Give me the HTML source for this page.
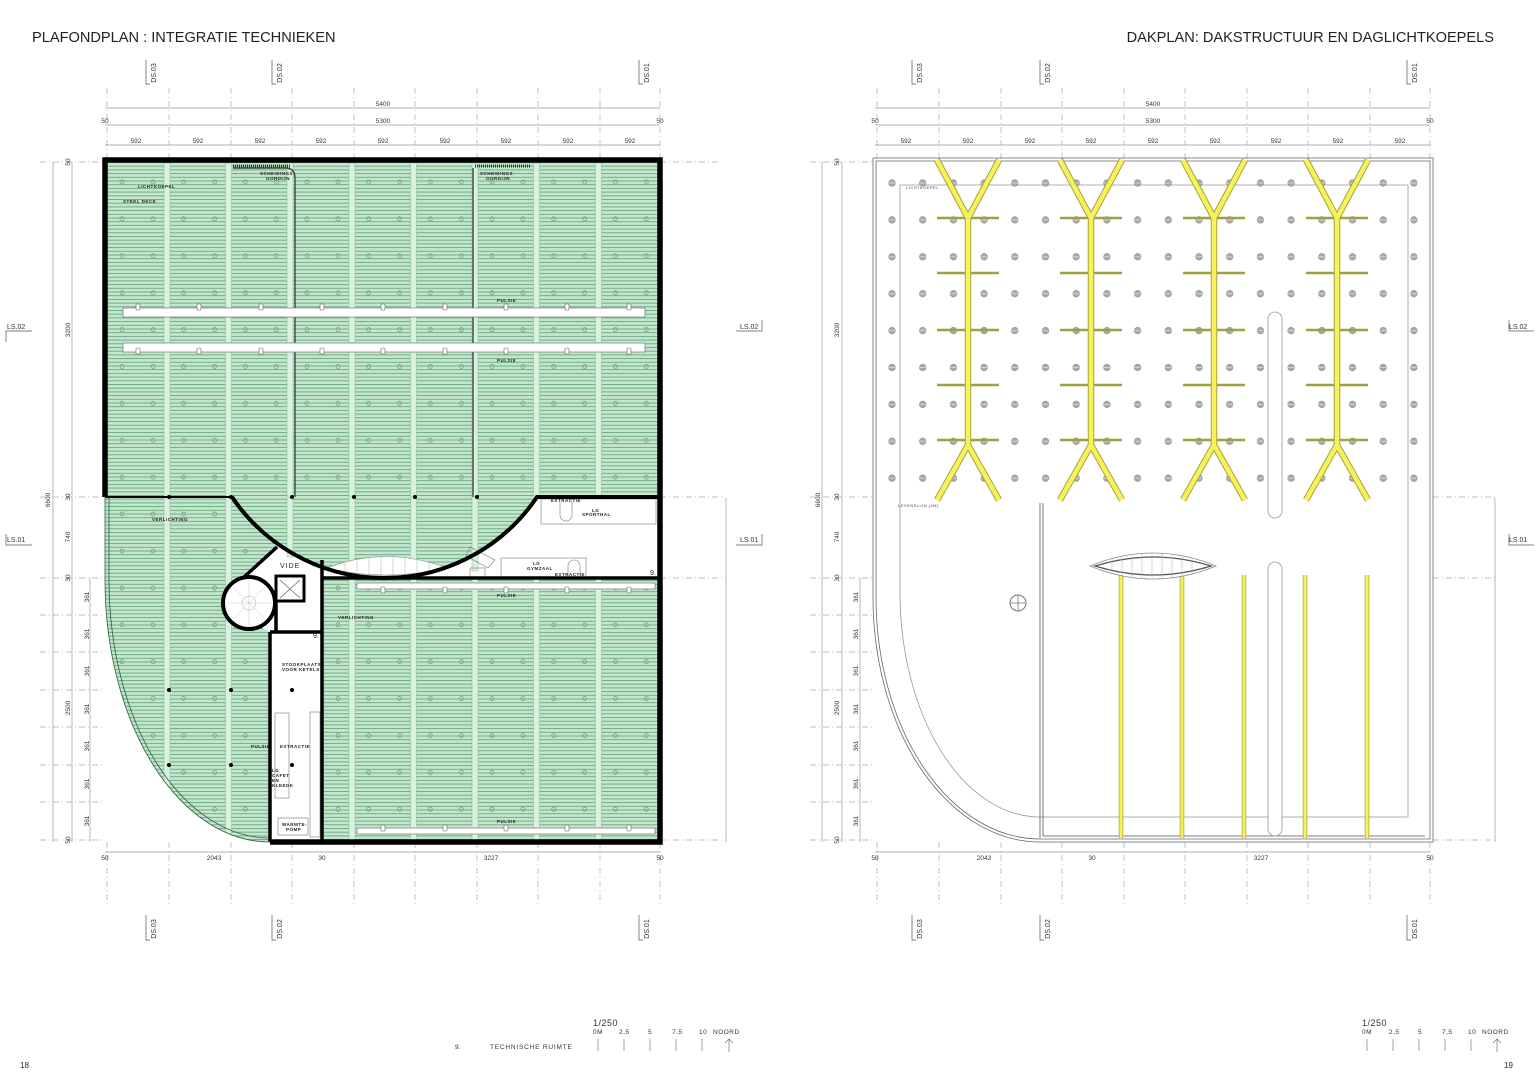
<!DOCTYPE html>
<html><head><meta charset="utf-8"><style>
html,body{margin:0;padding:0;background:#fff;}
svg{display:block;font-family:"Liberation Sans",sans-serif;}
</style></head><body>
<svg width="1536" height="1085" viewBox="0 0 1536 1085" xmlns="http://www.w3.org/2000/svg">
<defs>
<pattern id="stripe" patternUnits="userSpaceOnUse" width="10" height="3.7" x="0" y="162">
<rect width="10" height="3.7" fill="#c3e7cd"/><line x1="0" y1="0.5" x2="10" y2="0.5" stroke="#6aa67d" stroke-width="0.9"/>
</pattern>
<pattern id="lights" patternUnits="userSpaceOnUse" width="61.67" height="36.9" x="105" y="163">
<circle cx="17" cy="19" r="2" fill="none" stroke="#7a9a85" stroke-width="0.8"/>
<circle cx="48" cy="19" r="2" fill="none" stroke="#7a9a85" stroke-width="0.8"/>
</pattern>
<pattern id="dots" patternUnits="userSpaceOnUse" width="30.7" height="36.9" x="876.65" y="164.55">
<circle cx="15.35" cy="18.45" r="3.3" fill="#aaa" stroke="#888" stroke-width="0.6"/>
<line x1="12.3" y1="18.45" x2="18.4" y2="18.45" stroke="#eee" stroke-width="0.6"/>
</pattern>
<clipPath id="gclip"><path d="M105 160H660V842H270A165 262 0 0 1 105 580Z"/></clipPath>
</defs>

<text x="32" y="42" font-size="14.6" fill="#222">PLAFONDPLAN : INTEGRATIE TECHNIEKEN</text>
<text x="1494" y="42" font-size="14.6" fill="#222" text-anchor="end">DAKPLAN: DAKSTRUCTUUR EN DAGLICHTKOEPELS</text>

<g stroke="#aaa" stroke-width="0.7" stroke-dasharray="6,3,1,3" fill="none">
<path d="M107 88V160M169 88V160M231 88V160M292 88V160M354 88V160M415 88V160M477 88V160M538 88V160M600 88V160M660 88V160"/>
<path d="M107 842V905M169 842V905M231 842V905M292 842V905M354 842V905M415 842V905M477 842V905M538 842V905M600 842V905M660 842V905"/>
<path d="M877 88V160M939 88V160M1001 88V160M1062 88V160M1124 88V160M1185 88V160M1247 88V160M1308 88V160M1370 88V160M1430 88V160"/>
<path d="M877 842V905M939 842V905M1001 842V905M1062 842V905M1124 842V905M1185 842V905M1247 842V905M1308 842V905M1370 842V905M1430 842V905"/>
<path d="M40 162H105M40 497H105M40 578H105M40 615H105M40 652H105M40 690H105M40 727H105M40 765H105M40 802H105M40 840H105"/>
<path d="M660 162H720M660 497H725M660 578H725M660 840H725"/>
<path d="M810 162H873M810 497H873M810 578H873M810 615H873M810 652H873M810 690H873M810 727H873M810 765H873M810 802H873M810 840H873"/>
<path d="M1433 497H1495M1433 578H1495M1433 840H1495"/>
</g>

<g stroke="#999" stroke-width="0.7" fill="none">
<path d="M105 108H660M105 125H660M105 145H660"/>
<path d="M53 162V842M72 162V842M90 578V842"/>
<path d="M105 852H660"/>
<path d="M875 108H1430M875 125H1430M875 145H1430"/>
<path d="M822 162V842M842 162V842M860 578V842"/>
<path d="M875 852H1430"/>
<path d="M726 498V842M1495 498V842"/>
</g>
<g font-size="6.5" fill="#333" text-anchor="middle">
<text x="383" y="106">5400</text><text x="383" y="123">5300</text>
<text x="105" y="123">50</text><text x="660" y="123">50</text>
<text x="136" y="143">592</text><text x="198" y="143">592</text><text x="260" y="143">592</text><text x="321" y="143">592</text><text x="383" y="143">592</text><text x="445" y="143">592</text><text x="506" y="143">592</text><text x="568" y="143">592</text><text x="630" y="143">592</text>
<text x="105" y="860">50</text><text x="214" y="860">2043</text><text x="322" y="860">30</text><text x="491" y="860">3227</text><text x="660" y="860">50</text>
<text x="1153" y="106">5400</text><text x="1153" y="123">5300</text>
<text x="875" y="123">50</text><text x="1430" y="123">50</text>
<text x="906" y="143">592</text><text x="968" y="143">592</text><text x="1030" y="143">592</text><text x="1091" y="143">592</text><text x="1153" y="143">592</text><text x="1215" y="143">592</text><text x="1276" y="143">592</text><text x="1338" y="143">592</text><text x="1400" y="143">592</text>
<text x="875" y="860">50</text><text x="984" y="860">2043</text><text x="1092" y="860">30</text><text x="1261" y="860">3227</text><text x="1430" y="860">50</text>
</g>
<g font-size="6.5" fill="#333" text-anchor="middle">
<text transform="translate(50,500) rotate(-90)">6600</text>
<text transform="translate(70,330) rotate(-90)">3200</text>
<text transform="translate(70,162) rotate(-90)">50</text>
<text transform="translate(70,497) rotate(-90)">30</text>
<text transform="translate(70,537) rotate(-90)">740</text>
<text transform="translate(70,578) rotate(-90)">30</text>
<text transform="translate(70,708) rotate(-90)">2500</text>
<text transform="translate(70,840) rotate(-90)">50</text>
<text transform="translate(89,597) rotate(-90)">361</text><text transform="translate(89,634) rotate(-90)">361</text><text transform="translate(89,671) rotate(-90)">361</text><text transform="translate(89,709) rotate(-90)">361</text><text transform="translate(89,746) rotate(-90)">361</text><text transform="translate(89,784) rotate(-90)">361</text><text transform="translate(89,821) rotate(-90)">361</text>
<text transform="translate(820,500) rotate(-90)">6600</text>
<text transform="translate(839,330) rotate(-90)">3200</text>
<text transform="translate(839,162) rotate(-90)">50</text>
<text transform="translate(839,497) rotate(-90)">30</text>
<text transform="translate(839,537) rotate(-90)">740</text>
<text transform="translate(839,578) rotate(-90)">30</text>
<text transform="translate(839,708) rotate(-90)">2500</text>
<text transform="translate(839,840) rotate(-90)">50</text>
<text transform="translate(858,597) rotate(-90)">361</text><text transform="translate(858,634) rotate(-90)">361</text><text transform="translate(858,671) rotate(-90)">361</text><text transform="translate(858,709) rotate(-90)">361</text><text transform="translate(858,746) rotate(-90)">361</text><text transform="translate(858,784) rotate(-90)">361</text><text transform="translate(858,821) rotate(-90)">361</text>
</g>
<g font-size="7" fill="#333" text-anchor="middle">
<text transform="translate(156,73) rotate(-90)">DS.03</text><text transform="translate(282,73) rotate(-90)">DS.02</text><text transform="translate(649,73) rotate(-90)">DS.01</text>
<text transform="translate(156,929) rotate(-90)">DS.03</text><text transform="translate(282,929) rotate(-90)">DS.02</text><text transform="translate(649,929) rotate(-90)">DS.01</text>
<text transform="translate(922,73) rotate(-90)">DS.03</text><text transform="translate(1050,73) rotate(-90)">DS.02</text><text transform="translate(1417,73) rotate(-90)">DS.01</text>
<text transform="translate(922,929) rotate(-90)">DS.03</text><text transform="translate(1050,929) rotate(-90)">DS.02</text><text transform="translate(1417,929) rotate(-90)">DS.01</text>
</g>
<g stroke="#555" stroke-width="0.7" fill="none">
<path d="M146 60V84H150M272 60V84H276M639 60V84H643M146 915V940H150M272 915V940H276M639 915V940H643"/>
<path d="M912 60V84H916M1040 60V84H1044M1407 60V84H1411M912 915V940H916M1040 915V940H1044M1407 915V940H1411"/>
<path d="M6 342V331H32M6 534V545H32M762 320V331H736M762 534V545H736M1509 320V331H1534M1509 534V545H1534"/>
</g>
<g font-size="7" fill="#333">
<text x="7" y="329">LS.02</text><text x="7" y="542">LS.01</text>
<text x="740" y="329">LS.02</text><text x="740" y="542">LS.01</text>
<text x="1509" y="329">LS.02</text><text x="1509" y="542">LS.01</text>
</g>

<!-- LEFT PLAN -->
<path d="M105 160H660V842H270A165 262 0 0 1 105 580Z" fill="url(#stripe)"/>
<g clip-path="url(#gclip)">
<g fill="#d9f1df" stroke="#86b894" stroke-width="0.5">
<rect x="164" y="163" width="6" height="677"/><rect x="225.5" y="163" width="6" height="677"/><rect x="287" y="163" width="6" height="677"/><rect x="349" y="163" width="6" height="677"/><rect x="410.5" y="163" width="6" height="677"/><rect x="472" y="163" width="6" height="677"/><rect x="533.5" y="163" width="6" height="677"/><rect x="595.5" y="163" width="6" height="677"/>
</g>
<rect x="105" y="160" width="555" height="682" fill="url(#lights)"/>
</g>
<g stroke="#444" stroke-width="1.4" fill="none">
<path d="M233 168H285Q295 168 295 178V497"/>
<path d="M473 168V497"/>
</g>
<path d="M233 166H290" stroke="#333" stroke-width="3" stroke-dasharray="1,1"/>
<path d="M475 166H530" stroke="#333" stroke-width="3" stroke-dasharray="1,1"/>
<g fill="#fff" stroke="#777" stroke-width="0.7">
<rect x="123" y="308" width="522" height="9"/><rect x="123" y="343" width="522" height="9"/>
<rect x="357" y="583" width="298" height="6"/><rect x="357" y="828" width="298" height="6"/>
</g>
<g fill="#fff" stroke="#666" stroke-width="0.6">
<rect x="136" y="304" width="4" height="6" rx="1"/><rect x="197" y="304" width="4" height="6" rx="1"/><rect x="259" y="304" width="4" height="6" rx="1"/><rect x="320" y="304" width="4" height="6" rx="1"/><rect x="381" y="304" width="4" height="6" rx="1"/><rect x="443" y="304" width="4" height="6" rx="1"/><rect x="504" y="304" width="4" height="6" rx="1"/><rect x="565" y="304" width="4" height="6" rx="1"/><rect x="627" y="304" width="4" height="6" rx="1"/>
<rect x="136" y="348" width="4" height="6" rx="1"/><rect x="197" y="348" width="4" height="6" rx="1"/><rect x="259" y="348" width="4" height="6" rx="1"/><rect x="320" y="348" width="4" height="6" rx="1"/><rect x="381" y="348" width="4" height="6" rx="1"/><rect x="443" y="348" width="4" height="6" rx="1"/><rect x="504" y="348" width="4" height="6" rx="1"/><rect x="565" y="348" width="4" height="6" rx="1"/><rect x="627" y="348" width="4" height="6" rx="1"/>
<rect x="381" y="587" width="4" height="6" rx="1"/><rect x="443" y="587" width="4" height="6" rx="1"/><rect x="504" y="587" width="4" height="6" rx="1"/><rect x="565" y="587" width="4" height="6" rx="1"/><rect x="627" y="587" width="4" height="6" rx="1"/>
<rect x="381" y="825" width="4" height="6" rx="1"/><rect x="443" y="825" width="4" height="6" rx="1"/><rect x="504" y="825" width="4" height="6" rx="1"/><rect x="565" y="825" width="4" height="6" rx="1"/><rect x="627" y="825" width="4" height="6" rx="1"/>
</g>
<rect x="322" y="497" width="338" height="81" fill="#fff"/>
<path d="M277 547L243 578L232 612L270 632H322V560Z" fill="#fff"/>
<path d="M232 497A184 184 0 0 0 537 497Z" fill="url(#stripe)"/>
<g fill="#d9f1df" stroke="#86b894" stroke-width="0.5"><rect x="287" y="497" width="6" height="60"/><rect x="349" y="497" width="6" height="72"/><rect x="410.5" y="497" width="6" height="80"/><rect x="472" y="497" width="6" height="74"/></g>
<path d="M327 568Q385 545 447 568Q385 582 327 568Z" fill="#fff" stroke="#888" stroke-width="0.6"/>
<g stroke="#aaa" stroke-width="0.5"><path d="M345 562V575M357 559V577M369 557V578M381 556V578M393 556V578M405 557V578M417 558V577M429 561V575"/></g>
<rect x="270" y="632" width="52" height="210" fill="#fff"/>
<g fill="none" stroke="#777" stroke-width="0.6">
<rect x="541" y="499" width="115" height="25"/><rect x="501" y="558" width="85" height="20"/>
<path d="M560 502V515A6 6 0 0 0 572 515V502"/><path d="M568 577V566A6 6 0 0 1 580 566V577"/>
<rect x="275" y="713" width="14" height="85"/><rect x="310" y="712" width="10" height="125"/>
<rect x="278" y="818" width="30" height="17"/>
<path d="M470 547L495 560L488 568L466 556Z"/><rect x="470" y="568" width="15" height="9"/>
</g>
<circle cx="249" cy="603" r="26" fill="#fff" stroke="#000" stroke-width="4"/>
<g stroke="#bbb" stroke-width="0.4"><path d="M249 580V626M226 603H272M233 587L265 619M265 587L233 619"/></g>
<circle cx="249" cy="603" r="7" fill="none" stroke="#aaa" stroke-width="0.5"/>
<rect x="276" y="576" width="28" height="25" fill="#fff" stroke="#000" stroke-width="3"/>
<path d="M280 580L300 598M300 580L280 598" stroke="#555" stroke-width="0.6"/>
<g fill="none" stroke="#000">
<path d="M105 497V160H660V842H270" stroke-width="5.5"/>
<path d="M105 497H232" stroke-width="2"/>
<path d="M232 497A184 184 0 0 0 537 497H660" stroke-width="4"/>
<path d="M322 578H660M322 560V842M270 632V842M270 632H322M277 547L243 578M276 601V632" stroke-width="3.5"/>
</g>
<path d="M270 842A165 262 0 0 1 105 580V497" fill="none" stroke="#2e5a3e" stroke-width="0.8"/>
<path d="M268 838A161 258 0 0 1 109 580V497" fill="none" stroke="#2e5a3e" stroke-width="0.8"/>
<g fill="#000"><circle cx="169" cy="497" r="2"/><circle cx="231" cy="497" r="2"/><circle cx="292" cy="497" r="2"/><circle cx="354" cy="497" r="2"/><circle cx="415" cy="497" r="2"/><circle cx="477" cy="497" r="2"/><circle cx="169" cy="690" r="2"/><circle cx="231" cy="690" r="2"/><circle cx="169" cy="765" r="2"/><circle cx="231" cy="765" r="2"/><circle cx="292" cy="690" r="2"/><circle cx="292" cy="765" r="2"/></g>
<g font-size="4.5" fill="#222" font-weight="bold" letter-spacing="0.5">
<text x="138" y="188">LICHTKOEPEL</text><text x="123" y="203">STEEL DECK</text>
<text x="260" y="175">SCHEIDINGS</text><text x="266" y="180">GORDIJN</text>
<text x="480" y="175">SCHEIDINGS</text><text x="486" y="180">GORDIJN</text>
<text x="497" y="302">PULSIE</text><text x="497" y="362">PULSIE</text>
<text x="152" y="521">VERLICHTING</text><text x="338" y="619">VERLICHTING</text>
<text x="497" y="597">PULSIE</text><text x="497" y="823">PULSIE</text>
<text x="551" y="502">EXTRACTIE</text><text x="592" y="512">LG</text><text x="582" y="516">SPORTHAL</text>
<text x="533" y="565">LG</text><text x="527" y="570">GYMZAAL</text><text x="555" y="576">EXTRACTIE</text>
<text x="282" y="666">STOOKPLAATS</text><text x="282" y="671">VOOR KETELS</text>
<text x="251" y="748">PULSIE</text><text x="280" y="748">EXTRACTIE</text>
<text x="272" y="772">LG</text><text x="272" y="777">CAFET</text><text x="272" y="782">EN</text><text x="272" y="787">KLEEDK</text>
<text x="282" y="826">WARMTE-</text><text x="286" y="831">POMP</text>
</g>
<text x="280" y="568" font-size="7" fill="#222" letter-spacing="1">VIDE</text>
<text x="650" y="575" font-size="7" fill="#222">9.</text>
<text x="313" y="638" font-size="7" fill="#222">9.</text>

<!-- RIGHT PLAN -->
<g fill="none" stroke="#666" stroke-width="0.8">
<path d="M873 158H1433V842H1040A167 245 0 0 1 873 597Z"/>
<path d="M876 161H1430V839H1040A164 242 0 0 1 876 597Z"/>
<path d="M900 185H1408V817H1040A140 225 0 0 1 900 592Z" stroke="#999"/>
<path d="M1040 503V838M1043 503V836H1425" stroke="#555"/>
</g>
<rect x="876" y="165" width="550" height="330" fill="url(#dots)"/>
<text x="906" y="189" font-size="4" fill="#444" letter-spacing="0.5">LICHTKOEPEL</text>
<text x="898" y="507" font-size="4" fill="#444" letter-spacing="0.5">LEVENSLIJN (2M)</text>
<g stroke="#a0a040" stroke-width="2.5">
<path d="M937 218H999M937 273H999M937 330H999M937 385H999M937 440H999"/>
<path d="M1060 218H1122M1060 273H1122M1060 330H1122M1060 385H1122M1060 440H1122"/>
<path d="M1183 218H1245M1183 273H1245M1183 330H1245M1183 385H1245M1183 440H1245"/>
<path d="M1306 218H1368M1306 273H1368M1306 330H1368M1306 385H1368M1306 440H1368"/>
</g>
<g fill="none">
<g stroke="#a9a33a" stroke-width="6.5">
<path d="M937 160L968 218L999 160M968 218V445L937 500M968 445L999 500"/>
<path d="M1060 160L1091 218L1122 160M1091 218V445L1060 500M1091 445L1122 500"/>
<path d="M1183 160L1214 218L1245 160M1214 218V445L1183 500M1214 445L1245 500"/>
<path d="M1306 160L1337 218L1368 160M1337 218V445L1306 500M1337 445L1368 500"/>
<path d="M1121 575V838M1182 575V838M1244 575V838M1305 575V838M1367 575V838" stroke-width="4.5"/>
</g>
<g stroke="#f6f25e" stroke-width="4.5">
<path d="M937 160L968 218L999 160M968 218V445L937 500M968 445L999 500"/>
<path d="M1060 160L1091 218L1122 160M1091 218V445L1060 500M1091 445L1122 500"/>
<path d="M1183 160L1214 218L1245 160M1214 218V445L1183 500M1214 445L1245 500"/>
<path d="M1306 160L1337 218L1368 160M1337 218V445L1306 500M1337 445L1368 500"/>
<path d="M1121 575V838M1182 575V838M1244 575V838M1305 575V838M1367 575V838" stroke-width="3"/>
</g>
</g>
<rect x="1268" y="312" width="14" height="206" rx="7" fill="#fff" stroke="#999" stroke-width="0.8"/>
<rect x="1268" y="562" width="14" height="274" rx="7" fill="#fff" stroke="#999" stroke-width="0.8"/>
<path d="M1090 566Q1153 540 1216 566Q1153 592 1090 566Z" fill="#fff" stroke="#888" stroke-width="0.8"/>
<path d="M1095 566Q1153 548 1211 566Q1153 584 1095 566Z" fill="#fff" stroke="#555" stroke-width="1.3"/>
<g stroke="#aaa" stroke-width="0.5"><path d="M1112 559V573M1122 556V576M1132 555V577M1142 554V578M1152 554V578M1162 554V578M1172 555V577M1182 556V576M1192 559V573"/></g>
<circle cx="1018" cy="603" r="8" fill="none" stroke="#777" stroke-width="1"/>
<path d="M1010 603H1026M1018 595V611" stroke="#777" stroke-width="0.8"/>

<text x="20" y="1068" font-size="8" fill="#222">18</text>
<text x="1504" y="1068" font-size="8" fill="#222">19</text>
<text x="455" y="1049" font-size="6.5" fill="#333">9.</text>
<text x="490" y="1049" font-size="6.5" fill="#333" letter-spacing="0.8">TECHNISCHE RUIMTE</text>
<g font-size="6.5" fill="#333" letter-spacing="0.5">
<text x="593" y="1026" font-size="9">1/250</text>
<text x="593" y="1034">0M</text><text x="619" y="1034">2,5</text><text x="648" y="1034">5</text><text x="672" y="1034">7,5</text><text x="699" y="1034">10</text><text x="713" y="1034">NOORD</text>
<text x="1362" y="1026" font-size="9">1/250</text>
<text x="1362" y="1034">0M</text><text x="1389" y="1034">2,5</text><text x="1418" y="1034">5</text><text x="1442" y="1034">7,5</text><text x="1468" y="1034">10</text><text x="1482" y="1034">NOORD</text>
</g>
<g stroke="#777" stroke-width="0.7" fill="none">
<path d="M598 1039V1051M624 1039V1051M650 1039V1051M676 1039V1051M702 1039V1051M729 1052V1039M725 1043L729 1039L733 1043"/>
<path d="M1367 1039V1051M1393 1039V1051M1419 1039V1051M1445 1039V1051M1471 1039V1051M1497 1052V1039M1493 1043L1497 1039L1501 1043"/>
</g>
</svg>
</body></html>
